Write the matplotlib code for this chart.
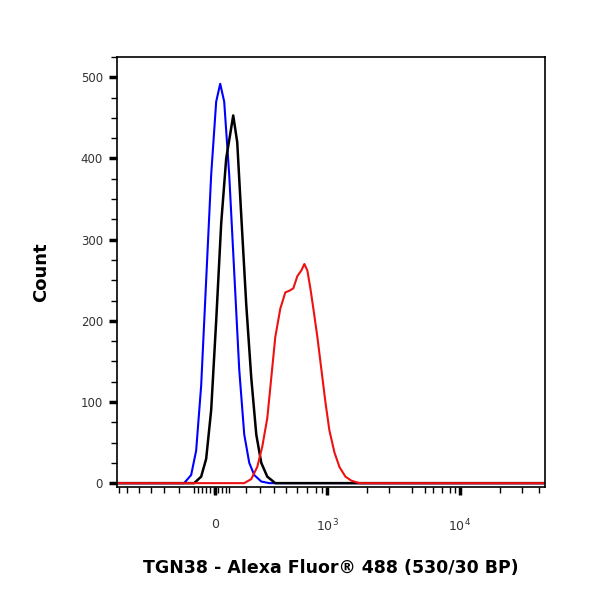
import matplotlib
matplotlib.use("Agg")
import matplotlib.pyplot as plt
import numpy as np

# channel positions (display scale) and counts
blue_x = [118,185,192,197,202,207,212,217,221,225,230,235,240,245,250,255,262,270,545]
blue_y = [0,0,10,40,120,250,380,470,492,470,380,260,140,60,25,10,2,0,0]
black_x = [118,195,202,207,212,217,222,227,231,234,238,242,247,252,257,262,268,276,545]
black_y = [0,0,8,30,90,200,320,400,430,453,420,330,220,130,60,25,8,0,0]
red_x = [118,245,252,258,263,268,272,276,281,286,290,294,298,302,305,308,311,314,318,322,326,330,335,340,346,352,360,545]
red_y = [0,0,5,20,45,80,130,180,215,235,237,240,255,262,270,262,240,215,180,140,100,65,38,20,8,3,0,0]

major_labels = ["0", "$10^3$", "$10^4$"]
major_pos = [216, 328, 460]
minor_pos = [120,128,140,152,165,180,195,199,203,207,211,215,219,223,227,230,
             247,261,275,287,298,308,317,323,368,389,412,425,433,442,450,455,500,522,539]

fig = plt.figure(figsize=(6,6), dpi=100)
ax = fig.add_axes([0.195, 0.188, 0.713, 0.717])
ax.plot(blue_x, blue_y, color="#0000ff", lw=1.5)
ax.plot(black_x, black_y, color="black", lw=1.8)
ax.plot(red_x, red_y, color="#ee1111", lw=1.5)
ax.set_xlim(118, 545)
ax.set_ylim(-5, 525)
ax.set_xticks(major_pos)
ax.set_xticklabels(major_labels, fontsize=9, color="#333333")
ax.set_xticks(minor_pos, minor=True)
ax.set_yticks([0,100,200,300,400,500])
ax.set_yticklabels(["0","100","200","300","400","500"], fontsize=8.5, color="#333333")
ax.set_yticks(np.arange(0, 526, 25), minor=True)
ax.tick_params(which="major", direction="out", length=6, width=2.5, pad=16)
ax.tick_params(which="minor", direction="out", length=4, width=1)
ax.tick_params(axis="y", which="major", pad=4)
for s in ax.spines.values():
    s.set_linewidth(1.2)
ax.set_ylabel("Count", fontsize=13, fontweight="bold", labelpad=22)
ax.set_xlabel("TGN38 - Alexa Fluor® 488 (530/30 BP)", fontsize=12.5, fontweight="bold", labelpad=18)
fig.savefig("out.png", dpi=100)
